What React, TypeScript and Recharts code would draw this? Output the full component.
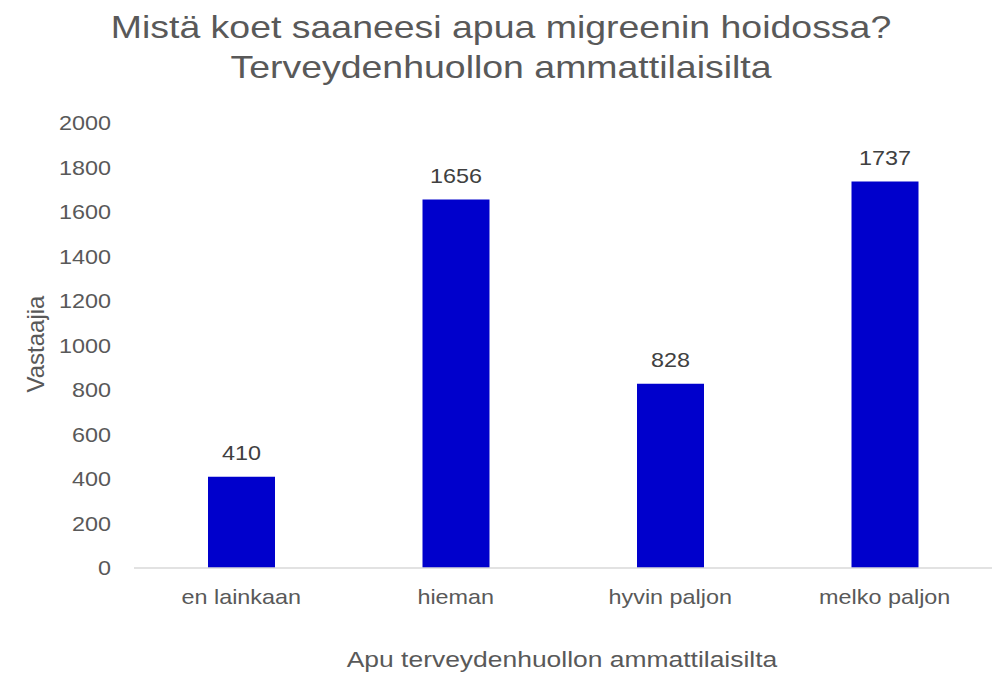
import React from "react";
import { BarChart, Bar, XAxis, YAxis, LabelList } from "recharts";

const categories = ["en lainkaan", "hieman", "hyvin paljon", "melko paljon"];
const values = [410, 1656, 828, 1737];
const yTicks = [0, 200, 400, 600, 800, 1000, 1200, 1400, 1600, 1800, 2000];
const titleLines = ["Mistä koet saaneesi apua migreenin hoidossa?", "Terveydenhuollon ammattilaisilta"];
const xTitle = "Apu terveydenhuollon ammattilaisilta";
const yTitle = "Vastaajia";

const data = categories.map((c, i) => ({ name: c, value: values[i] }));

const FONT = "'Liberation Sans', Arimo, Arial, sans-serif";
const TEXT = "#595959";
const SX = 1.17;

const XTick = (props: any) => {
  const { x, y, payload } = props;
  return (
    <text
      transform={`translate(${x},${y}) scale(${SX},1)`}
      x={0}
      y={0}
      dy="0.71em"
      textAnchor="middle"
      fill={TEXT}
      fontSize={20}
      fontFamily={FONT}
    >
      {payload.value}
    </text>
  );
};

const YTick = (props: any) => {
  const { x, y, payload } = props;
  return (
    <text
      transform={`translate(${x},${y}) scale(${SX},1)`}
      x={0}
      y={0}
      dy="0.355em"
      textAnchor="end"
      fill={TEXT}
      fontSize={20}
      fontFamily={FONT}
    >
      {payload.value}
    </text>
  );
};

const ValueLabel = (props: any) => {
  const { x, y, width, value } = props;
  const cx = Number(x) + Number(width) / 2;
  const ty = Number(y) - 17;
  return (
    <text
      transform={`translate(${cx},${ty}) scale(${SX},1)`}
      x={0}
      y={0}
      textAnchor="middle"
      fill="#404040"
      fontSize={20}
      fontFamily={FONT}
    >
      {value}
    </text>
  );
};

export default function App() {
  return (
    <div style={{ position: "absolute", left: 0, top: 0, width: 997, height: 673, background: "#fff", fontFamily: FONT, overflow: "hidden" }}>
      <div
        style={{
          position: "absolute",
          left: 1,
          top: 7,
          width: 1000,
          textAlign: "center",
          color: TEXT,
          fontSize: 32,
          lineHeight: "40px",
          transform: `scaleX(${SX})`,
          transformOrigin: "500px 0",
          whiteSpace: "nowrap",
        }}
      >
        {titleLines.map((t) => (
          <div key={t}>{t}</div>
        ))}
      </div>
      <div
        style={{
          position: "absolute",
          left: 262,
          top: 645,
          width: 600,
          textAlign: "center",
          color: TEXT,
          fontSize: 22.6,
          lineHeight: "30px",
          transform: `scaleX(${SX})`,
          transformOrigin: "300px 0",
          whiteSpace: "nowrap",
        }}
      >
        {xTitle}
      </div>
      <div
        style={{
          position: "absolute",
          left: 36 - 100,
          top: 344 - 15,
          width: 200,
          height: 30,
          textAlign: "center",
          color: TEXT,
          fontSize: 24,
          lineHeight: "30px",
          transform: "rotate(-90deg)",
          whiteSpace: "nowrap",
        }}
      >
        {yTitle}
      </div>
      <div style={{ position: "absolute", left: 0, top: 0 }}>
        <BarChart width={997} height={673} data={data} margin={{ top: 123, right: 5, left: 0, bottom: 0 }}>
          <XAxis
            dataKey="name"
            height={105}
            tickSize={0}
            tickMargin={22}
            axisLine={{ stroke: "#d9d9d9", strokeWidth: 1.5 }}
            tick={<XTick />}
          />
          <YAxis
            width={134}
            domain={[0, 2000]}
            ticks={yTicks}
            interval={0}
            tickSize={0}
            tickMargin={23}
            axisLine={false}
            tick={<YTick />}
          />
          <Bar dataKey="value" fill="#0000CC" barSize={67} isAnimationActive={false}>
            <LabelList dataKey="value" content={<ValueLabel />} />
          </Bar>
        </BarChart>
      </div>
    </div>
  );
}
